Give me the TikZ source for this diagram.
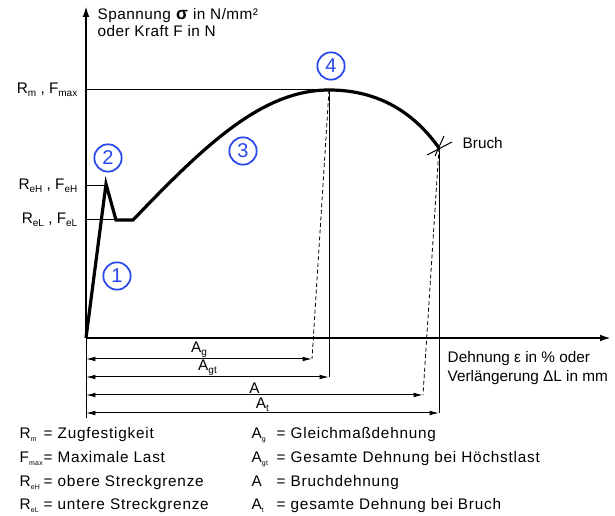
\documentclass[tikz,border=0pt]{standalone}
\usepackage{fontspec}
\setmainfont{Liberation Sans}
\newfontfamily\spaced[LetterSpace=5]{Liberation Sans}
\newfontfamily\lessspaced[LetterSpace=3]{Liberation Sans}
\usepackage{xcolor}
\usepackage{tikz}
\usetikzlibrary{arrows.meta}
\definecolor{num blue}{RGB}{40,72,235}
\newcommand\lsub[1]{\raisebox{-0.35ex}{\fontsize{5.2}{5.2}\selectfont #1}}
\newcommand\asub[1]{\raisebox{-0.35ex}{\fontsize{7.5}{7.5}\selectfont #1}}
\tikzset{axis/.style={line width=2pt, -{Latex[length=9pt,width=5pt]}},
    curve/.style={line width=2.4pt, line join=miter},
    thin line/.style={line width=0.75pt},
    guide/.style={line width=0.6pt, dash pattern=on 3pt off 2pt},
    dim/.style={line width=0.75pt, {Latex[length=7pt,width=3.5pt]}-{Latex[length=7pt,width=3.5pt]}},
    num/.style={circle, draw=num blue, text=num blue, line width=1.3pt,
        minimum size=20.5pt, inner sep=0pt, font=\fontsize{15}{15}\selectfont},
    legend/.style={anchor=base west, font=\spaced\fontsize{11.5}{12}\selectfont}}

\begin{document}
\begin{tikzpicture}[x=0.75pt, y=-0.75pt, font=\fontsize{11.5}{12}\selectfont]
    \useasboundingbox (0,0) rectangle (615,516);
    % points of the curve
    \coordinate (O) at (86,338);
    \coordinate (ytop) at (86,5);
    \coordinate (xend) at (612,338);
    \coordinate (yield) at (106,184);
    \coordinate (lowA) at (116,220);
    \coordinate (lowB) at (133,220);
    \coordinate (peak) at (329,90);
    \coordinate (brk) at (439,148);
    % ends of the measures
    \coordinate (g) at (312,359);
    \coordinate (gt) at (329,377);
    \coordinate (a) at (423,395);
    \coordinate (t) at (439,413);
    \coordinate (bottom) at (86,418);

    \draw[axis] (O) -- (ytop);
    \draw[axis] (O) -- (xend);
    \draw[thin line] (O) -- (bottom);

    % levels
    \draw[thin line] (peak -| O) -- (peak);
    \draw[thin line] (O |- yield) ++(0,2) -- ++(19,0);
    \draw[thin line] (lowA -| O) -- (lowA);

    \draw[curve] (O) -- (yield) -- (lowA) -- (lowB)
        .. controls (205,145) and (262,90) .. (peak)
        .. controls (380,90) and (415,114) .. (brk);

    % break
    \draw[thin line] (brk) ++(-12,7) -- ++(25,-13);
    \draw[thin line] (brk) ++(-4,8) -- ++(9,-20);
    \node[anchor=west] (bruch) at (458,143) {Bruch};

    % verticals
    \draw[thin line] (peak) -- (gt);
    \draw[guide] (peak) -- (g);
    \draw[thin line] (brk) -- (t);
    \draw[guide] (brk) -- (a);

    % measures
    \draw[dim] (g -| O) -- (g) node[midway, above, inner sep=1pt] {A\asub{g}};
    \draw[dim] (gt -| O) -- (gt) node[midway, above, inner sep=1pt] {A\asub{gt}};
    \draw[dim] (a -| O) -- (a) node[midway, above, inner sep=1pt] {A};
    \draw[dim] (t -| O) -- (t) node[midway, above, inner sep=1pt] {A\asub{t}};

    % axis texts
    \node[anchor=north west, align=left, font=\lessspaced\fontsize{11.5}{12.5}\selectfont] (ylabel) at (93,4)
        {Spannung {\fontsize{13}{13}\selectfont\textbf{σ}}\ in N/mm²\\ oder Kraft F in N};
    \node[anchor=north west, align=left, font=\fontsize{11.5}{14}\selectfont] (xlabel) at (443,347)
        {Dehnung ε in \% oder\\ Verlängerung ΔL in mm};
    \node[anchor=east] (rm) at (82,90) {R\asub{m} , F\asub{max}};
    \node[anchor=east] (reh) at (82,186) {R\asub{eH} , F\asub{eH}};
    \node[anchor=east] (rel) at (82,220) {R\asub{eL} , F\asub{eL}};

    % stages
    \node[num] (n1) at (117,276) {1};
    \node[num] (n2) at (108,158) {2};
    \node[num] (n3) at (243,151) {3};
    \node[num] (n4) at (331,66) {4};

    % legend
    \node[legend] at (15,439) {R\lsub{m}};
    \node[legend] at (39,439) {= Zugfestigkeit};
    \node[legend] at (15,463) {F\lsub{max}};
    \node[legend] at (39,463) {= Maximale Last};
    \node[legend] at (15,487) {R\lsub{eH}};
    \node[legend] at (39,487) {= obere Streckgrenze};
    \node[legend] at (15,510) {R\lsub{eL}};
    \node[legend] at (39,510) {= untere Streckgrenze};
    \node[legend] at (247,439) {A\lsub{g}};
    \node[legend] at (272,439) {= Gleichmaßdehnung};
    \node[legend] at (247,463) {A\lsub{gt}};
    \node[legend] at (272,463) {= Gesamte Dehnung bei Höchstlast};
    \node[legend] at (247,487) {A};
    \node[legend] at (272,487) {= Bruchdehnung};
    \node[legend] at (247,510) {A\lsub{t}};
    \node[legend] at (272,510) {= gesamte Dehnung bei Bruch};
\end{tikzpicture}
\end{document}
